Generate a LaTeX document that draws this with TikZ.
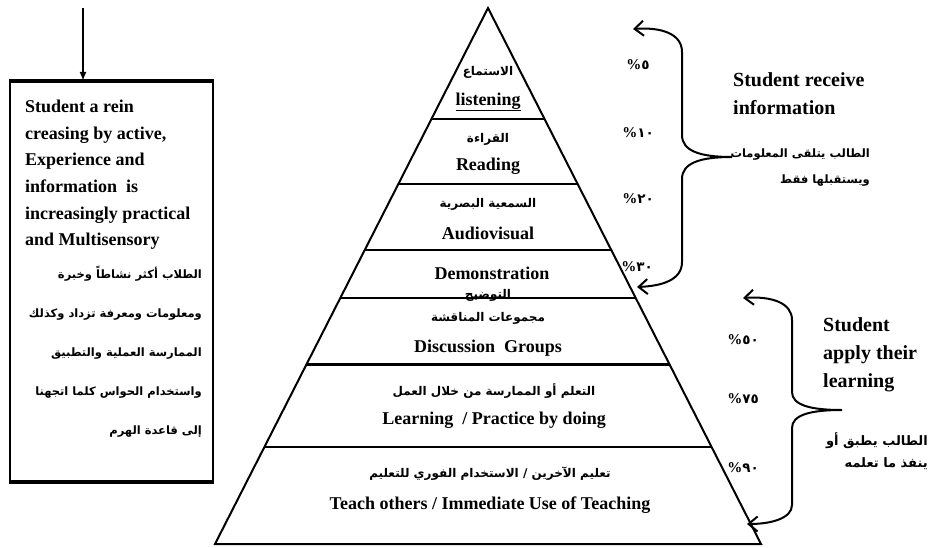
\documentclass[tikz,border=0pt]{standalone}
\usepackage{fontspec}
\setmainfont{Liberation Serif}
\newfontfamily\arabicfont[Script=Arabic]{DejaVu Sans}
\TeXXeTstate=1
\usetikzlibrary{arrows.meta,calc}
\newcommand{\artxt}[1]{\beginR #1\endR}
\newcommand{\pcnt}[1]{{\fontsize{15}{16}\selectfont\bfseries\%}{\arabicfont #1}}

\begin{document}
\begin{tikzpicture}[
  x=1pt, y=-1pt,
  % Node Styles
  infobox/.style={draw, line width=2pt, minimum width=203pt, minimum height=399pt, inner sep=0pt},
  eng/.style={font=\fontsize{18}{20}\selectfont\bfseries, inner sep=0pt},
  arb/.style={font=\arabicfont\fontsize{12}{14}\selectfont\bfseries, inner sep=0pt},
  pct/.style={font=\fontsize{13.5}{15}\selectfont\bfseries, inner sep=0pt},
  side_en/.style={font=\fontsize{20}{28}\selectfont\bfseries, align=left, inner sep=0pt},
  % Line Styles
  pyr_line/.style={line width=2pt, line join=miter},
  div_line/.style={line width=2.5pt},
  brace_line/.style={{Straight Barb[length=9pt,width=15pt]}-{Straight Barb[length=9pt,width=15pt]}, line width=2pt},
  down_arrow/.style={-{Latex[length=9pt,width=7pt]}, line width=2pt}
]
\useasboundingbox (0,0) rectangle (931,548);

% ================= LEFT BOX =================
\node[infobox] (info) at (111.5,281.5) {};
\draw[line width=3.5pt] (info.north west) -- (info.north east);
\draw[line width=3.5pt] (info.south west) -- (info.south east);
\coordinate (arrtop) at (83,8);
\draw[down_arrow] (arrtop) -- (arrtop |- info.north);

\node[eng, anchor=north west, align=left, font=\fontsize{18}{26.6}\selectfont\bfseries] (info_en) at (25,100)
  {Student a rein\\creasing by active,\\Experience and\\information\ \ is\\increasingly practical\\and Multisensory};
\node[arb, anchor=north east, align=right, font=\arabicfont\fontsize{11.5}{39}\selectfont\bfseries] (info_ar) at (202,266)
  {\artxt{الطلاب أكثر نشاطاً وخبرة}\\\artxt{ومعلومات ومعرفة تزداد وكذلك}\\\artxt{الممارسة العملية والتطبيق}\\\artxt{واستخدام الحواس كلما اتجهنا}\\\artxt{إلى قاعدة الهرم}};

% ================= PYRAMID =================
\coordinate (apex) at (488,8);
\coordinate (bl)   at (215,544);
\coordinate (br)   at (761,544);
\draw[pyr_line] (apex) -- (bl) -- (br) -- cycle;

% --- Dividers ---
\draw[div_line] ($(apex)!0.2075!(bl)$) -- ($(apex)!0.2075!(br)$);
\draw[div_line] ($(apex)!0.3287!(bl)$) -- ($(apex)!0.3287!(br)$);
\draw[div_line] ($(apex)!0.4518!(bl)$) -- ($(apex)!0.4518!(br)$);
\draw[div_line] ($(apex)!0.5413!(bl)$) -- ($(apex)!0.5413!(br)$);
\draw[div_line] ($(apex)!0.6653!(bl)$) -- ($(apex)!0.6653!(br)$);
\draw[div_line] ($(apex)!0.8191!(bl)$) -- ($(apex)!0.8191!(br)$);

% --- Layer texts ---
\node[arb] (listen_ar) at (488,72)  {\artxt{الاستماع}};
\node[eng] (listen_en) at (488,102) {\underline{listening}};
\node[arb] (read_ar)   at (488,139) {\artxt{القراءة}};
\node[eng] (read_en)   at (488,166) {Reading};
\node[arb] (av_ar)     at (488,204) {\artxt{السمعية البصرية}};
\node[eng] (av_en)     at (488,233) {Audiovisual};
\node[eng] (demo_en)   at (492,273) {Demonstration};
\node[arb] (demo_ar)   at (488,295) {\artxt{التوضيح}};
\node[arb] (disc_ar)   at (488,318) {\artxt{مجموعات المناقشة}};
\node[eng] (disc_en)   at (488,348) {Discussion\ \ Groups};
\node[arb] (doing_ar)  at (494,391) {\artxt{التعلم أو الممارسة من خلال العمل}};
\node[eng] (doing_en)  at (494,420) {Learning\ \ / Practice by doing};
\node[arb] (teach_ar)  at (490,474) {\artxt{تعليم الآخرين / الاستخدام الفوري للتعليم}};
\node[eng] (teach_en)  at (490,505) {Teach others / Immediate Use of Teaching};

% --- Percentages ---
\node[pct] (p5)  at (638,65)  {\pcnt{٥}};
\node[pct] (p10) at (638,133) {\pcnt{١٠}};
\node[pct] (p20) at (638,199) {\pcnt{٢٠}};
\node[pct] (p30) at (637,267) {\pcnt{٣٠}};
\node[pct] (p50) at (743,340) {\pcnt{٥٠}};
\node[pct] (p75) at (743,399) {\pcnt{٧٥}};
\node[pct] (p90) at (743,468) {\pcnt{٩٠}};

% ================= BRACES =================
% Upper brace (receive)
\coordinate (rtop) at (633,29);
\coordinate (rmid) at (732,157);
\coordinate (rbot) at (637,287);
\draw[brace_line] (rtop) .. controls (662,27) and (682,34) .. (682,52)
  -- (682,135) .. controls (682,151) and (700,157) .. (rmid)
  .. controls (700,157) and (682,163) .. (682,179)
  -- (682,262) .. controls (682,280) and (662,286) .. (rbot);

% Lower brace (apply)
\coordinate (atop) at (743,298);
\coordinate (amid) at (842,410);
\coordinate (abot) at (747,524);
\draw[brace_line] (atop) .. controls (772,296) and (792,303) .. (792,320)
  -- (792,392) .. controls (792,405) and (810,410) .. (amid)
  .. controls (810,410) and (792,415) .. (792,428)
  -- (792,505) .. controls (792,518) and (772,524) .. (abot);

% ================= SIDE LABELS =================
\node[side_en, anchor=north west] (recv_en) at (733,72) {Student receive\\information};
\node[arb, anchor=north east, align=right, font=\arabicfont\fontsize{11.5}{26}\selectfont\bfseries] (recv_ar) at (870,149)
  {\artxt{الطالب يتلقى المعلومات}\\\artxt{ويستقبلها فقط}};
\node[arb, anchor=north east, align=right, font=\arabicfont\fontsize{13}{22}\selectfont\bfseries] (apply_ar) at (928,432)
  {\artxt{الطالب يطبق أو}\\\artxt{ينفذ ما تعلمه}};
\node[side_en, anchor=north west] (apply_en) at (823,317) {Student\\apply their\\learning};

\end{tikzpicture}
\end{document}
